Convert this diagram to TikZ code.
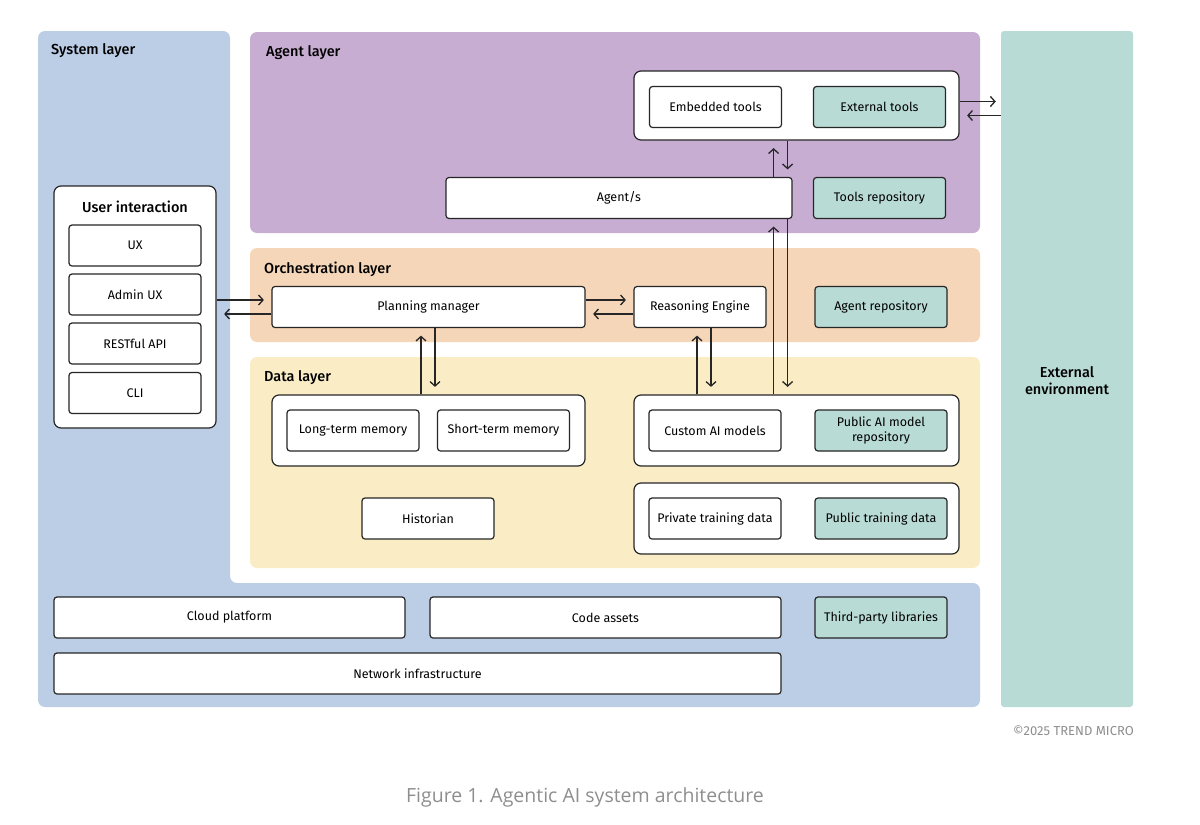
\documentclass[tikz,border=0pt]{standalone}
\usepackage{fontspec}
\setmainfont{Fira Sans}[BoldFont={Fira Sans Medium}]
\newfontfamily\captionfont{Open Sans}
\usepackage{tikz}
\usetikzlibrary{positioning,arrows.meta}

\definecolor{syscol}{HTML}{BCCDE6}
\definecolor{agentcol}{HTML}{C8ADD3}
\definecolor{orchcol}{HTML}{F5D6B8}
\definecolor{datacol}{HTML}{FAEDC6}
\definecolor{extcol}{HTML}{B9DBD5}
\definecolor{linecol}{HTML}{262626}
\definecolor{notecol}{HTML}{8E8E8E}

\tikzset{
  layer/.style={rounded corners=7pt},
  layertitle/.style={anchor=west, inner sep=0pt, font=\bfseries\fontsize{14.5}{16}\selectfont},
  box/.style={draw=linecol, line width=1.2pt, fill=white, rounded corners=3pt,
              minimum width=132pt, minimum height=41pt, align=center, inner sep=2pt,
              font=\fontsize{12.5}{14.5}\selectfont},
  extbox/.style={box, fill=extcol},
  group/.style={draw=linecol, line width=1.2pt, fill=white, rounded corners=7pt},
  link/.style={->, line width=1.3pt, draw=linecol, shorten >=7.5pt},
}

\begin{document}
\begin{tikzpicture}[x=1pt, y=-1pt, >={Straight Barb[length=4.5pt,width=10pt]}]
  \useasboundingbox (0,0) rectangle (1200,825);

  % layers
  \fill[syscol, layer] (38,31) -- (230,31) -- (230,583) -- (980,583)
    -- (980,707) -- (38,707) -- cycle;
  \fill[agentcol, layer] (250,32) rectangle (980,233);
  \fill[orchcol, layer] (250,248) rectangle (980,342);
  \fill[datacol, layer] (250,357) rectangle (980,568);
  \node (extenv) [fill=extcol, rounded corners=3pt, minimum width=132pt,
                  minimum height=676pt] at (1067,369) {};

  \node (systitle) [layertitle] at (51,50.5) {System layer};
  \node (agenttitle) [layertitle] at (266,52.5) {Agent layer};
  \node (orchtitle) [layertitle] at (264,269.5) {Orchestration layer};
  \node (datatitle) [layertitle] at (264,377.5) {Data layer};
  \node (exttitle) [align=center, font=\bfseries\fontsize{14.5}{17}\selectfont]
    at (1067,381) {External\\environment};

  % system layer
  \node (userint) [group, minimum width=162pt, minimum height=242pt] at (135,307) {};
  \node (usertitle) [font=\bfseries\fontsize{14.5}{16}\selectfont] at (135,206.5)
    {User interaction};
  \node (ux) [box] at (135,245.5) {UX};
  \node (adminux) [box] at (135,294.5) {Admin UX};
  \node (restapi) [box] at (135,343.5) {RESTful API};
  \node (cli) [box] at (135,393) {CLI};

  \node (cloud) [box, minimum width=351pt] at (229.5,617.5) {Cloud platform};
  \node (code) [box, minimum width=351pt] at (605.5,617.5) {Code assets};
  \node (thirdparty) [extbox] at (881,617.5) {Third-party libraries};
  \node (network) [box, minimum width=727pt] at (417.5,673.5) {Network infrastructure};

  % agent layer
  \node (tools) [group, minimum width=325pt, minimum height=69pt] at (796.5,105.5) {};
  \node (embedded) [box] at (715.5,107) {Embedded tools};
  \node (external) [extbox] at (879.5,107) {External tools};
  \node (agents) [box, minimum width=346pt] at (619,198) {Agent/s};
  \node (toolrepo) [extbox] at (879.5,198) {Tools repository};

  % orchestration layer
  \node (planning) [box, minimum width=313pt] at (428.5,307) {Planning manager};
  \node (reason) [box] at (700,307) {Reasoning Engine};
  \node (agentrepo) [extbox] at (881,307) {Agent repository};

  % data layer
  \node (memory) [group, minimum width=313pt, minimum height=71pt] at (428.5,430.5) {};
  \node (longterm) [box] at (353,430.5) {Long-term memory};
  \node (shortterm) [box] at (503.5,430.5) {Short-term memory};
  \node (historian) [box] at (428,518.5) {Historian};
  \node (aigroup) [group, minimum width=325pt, minimum height=71pt] at (796.5,430.5) {};
  \node (custom) [box] at (715,430.5) {Custom AI models};
  \node (publicai) [extbox] at (881,430.5) {Public AI model\\repository};
  \node (training) [group, minimum width=325pt, minimum height=71pt] at (796.5,518.5) {};
  \node (private) [box] at (715,518.5) {Private training data};
  \node (publictr) [extbox] at (881,518.5) {Public training data};

  % connectors
  \draw[link] ([yshift=7]userint.east) -- ([yshift=7]planning.west);
  \draw[link] ([yshift=-7]planning.west) -- ([yshift=-7]userint.east);
  \draw[link] ([yshift=7]planning.east) -- ([yshift=7]reason.west);
  \draw[link] ([yshift=-7]reason.west) -- ([yshift=-7]planning.east);

  \coordinate (pmup) at ([xshift=-7.5]planning.south);
  \coordinate (pmdown) at ([xshift=6.5]planning.south);
  \draw[link] (pmup |- memory.north) -- (pmup);
  \draw[link] (pmdown) -- (pmdown |- memory.north);

  \coordinate (reup) at ([xshift=-3]reason.south);
  \coordinate (redown) at ([xshift=11]reason.south);
  \draw[link] (reup |- aigroup.north) -- (reup);
  \draw[link] (redown) -- (redown |- aigroup.north);

  \coordinate (agup) at ([xshift=-19]agents.south east);
  \coordinate (agdown) at ([xshift=-5]agents.south east);
  \draw[link] (agup |- aigroup.north) -- (agup);
  \draw[link] (agdown) -- (agdown |- aigroup.north);
  \draw[link] (agup |- agents.north) -- (agup |- tools.south);
  \draw[link] (agdown |- tools.south) -- (agdown |- agents.north);

  \coordinate (toolsout) at ([yshift=4]tools.east);
  \coordinate (toolsin) at ([yshift=-10]tools.east);
  \draw[link, shorten >=5pt] (toolsout) -- (toolsout -| extenv.west);
  \draw[link] (toolsin -| extenv.west) -- (toolsin);

  % notes
  \node (copyr) [anchor=east, inner sep=0pt, text=notecol,
                 font=\fontsize{13}{15}\selectfont] at (1134,731) {©2025 TREND MICRO};
  \node (caption) [text=notecol, font=\captionfont\fontsize{19.5}{22}\selectfont]
    at (585,797) {Figure 1. Agentic AI system architecture};
\end{tikzpicture}
\end{document}
